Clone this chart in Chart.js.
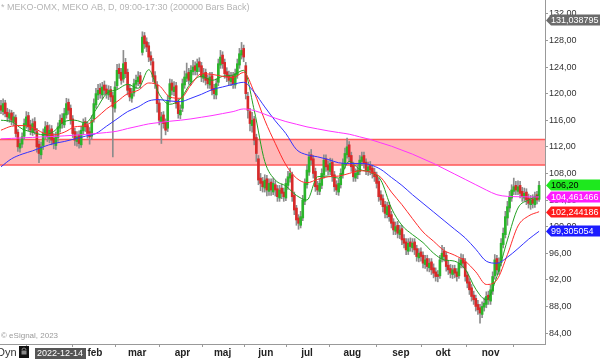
<!DOCTYPE html>
<html><head><meta charset="utf-8">
<script src="https://cdn.jsdelivr.net/npm/chart.js@4"></script>
<style>html,body{margin:0;padding:0;background:#fff;}canvas{display:block;}</style>
</head><body>
<canvas id="c" width="600" height="359"></canvas>
<script>
// ---- DATA (daily bars) ----
const opens = [118.2,117.3,118.6,117.2,116.3,117.1,115.8,116.4,114.2,111.8,
112.4,113.6,115.2,116.7,115.3,114.2,115.8,114.3,112.4,110.8,
112.2,113.8,115.2,113.2,114.7,113.3,112.2,113.4,114.8,116.3,
115.3,116.8,118.7,117.8,116.2,114.3,112.8,113.8,112.3,114.4,
115.8,115.2,114.3,113.6,116.2,118.3,119.8,120.8,119.8,121.3,
120.7,119.8,120.6,119.7,117.8,121.2,123.8,123.2,122.2,124.7,
123.2,120.8,119.3,120.1,121.4,121.8,122.7,126.2,128.7,127.8,
127.2,125.7,124.8,122.7,121.3,118.6,115.8,116.8,115.7,114.8,
119.2,121.6,120.3,121.2,118.7,116.8,117.8,121.3,122.3,123.2,
121.8,123.3,124.2,123.3,124.8,124.2,122.3,123.2,122.3,121.3,
122.7,120.8,119.8,121.7,124.3,125.8,124.7,123.3,122.8,121.8,
122.7,121.3,122.8,124.3,125.8,126.8,124.2,119.6,117.3,115.2,
116.2,113.4,110.2,107.3,106.8,105.8,107.2,105.3,106.7,105.2,
106.3,105.7,104.3,105.8,105.2,104.3,106.2,107.3,107.8,104.7,
102.8,101.3,100.2,101.3,103.8,106.3,108.2,110.8,110.2,108.3,
106.2,105.3,106.2,107.8,110.2,109.3,108.3,109.7,107.8,106.3,
105.2,106.3,107.8,109.3,110.8,112.3,110.7,109.2,107.3,107.8,
108.3,109.8,110.7,109.7,108.3,109.2,108.8,108.2,107.7,106.8,
104.8,104.2,103.3,101.8,103.2,101.8,100.7,99.3,100.2,98.8,
99.7,98.2,97.7,96.3,97.7,96.8,97.7,96.7,95.3,96.2,
95.7,94.3,95.2,93.8,94.7,93.8,93.2,92.8,92.6,95.2,
96.3,95.7,94.2,93.7,92.8,93.7,93.2,92.6,94.3,95.2,
94.7,92.7,91.7,90.8,89.7,89.2,88.3,87.8,86.8,87.9,
88.3,89.7,88.8,90.3,92.6,95.2,93.3,94.6,97.3,98.8,
101.3,102.8,104.3,105.3,106.2,105.3,106.2,105.3,104.3,105.2,
104.3,103.3,104.2,103.3,104.8,104.1];
const closes = [117.5,118.5,117,116.5,117,116,116.5,114,112,112.5,
113.5,115.5,116.5,115,114.5,115.5,114.5,112,111,112,
114,115,113.5,114.5,113,112.5,113.5,115,116,115.5,
117,118.5,117.5,116,114,113,113.5,112.5,114.5,115.5,
115,114,113.5,116,118.5,120,120.5,120,121,120.5,
120,120.5,119.5,118,121,123.5,123,122,124.5,123,
120.5,119.5,120,121.5,122,122.5,121.5,128.5,127.5,127,
125.5,125,122.5,121.5,118.5,116,116.5,115.5,114.5,119,
121.5,120.5,121,118.5,117,117.5,121.5,122.5,123,122,
123.5,124,123.5,124.5,124,122.5,123,122,121.5,122.5,
120.5,120,121.5,124.5,125.5,124.5,123,122.5,122,122.5,
121.5,123,124.5,126,126.5,125.5,120,117.5,115.5,116,
113,111,107,106.5,106,107,105.5,106.5,105.5,106.5,
105.5,104.5,105.5,105,104.5,106.5,107.5,108,104.5,102.5,
101,100.5,101.5,104,106.5,108.5,110.5,110,108,106,
105.5,106.5,108,110,109,108.5,109.5,107.5,106,105.5,
106.5,108,109.5,111,112,110.5,109,107.5,108,108.5,
110,110.5,109.5,108.5,109,108.5,108,107.5,106.5,104.5,
104,103,102,103,101.5,100.5,99.5,100,99,99.5,
98,97.5,96.5,97.5,97,97.5,96.5,95.5,96,95.5,
94.5,95,94,94.5,93.5,93,92.5,92.5,95,96,
95.5,94,93.5,93,93.5,93,92.5,94.5,95,94.5,
92.5,91.5,90.5,89.5,89,88,87.5,87,88,88.5,
89.5,89,90.5,92.5,95,93.5,94.5,97.5,99,101.5,
103,104.5,105.5,106,105.5,106,105,104.5,105,104,
103.5,104,103.5,104.5,104,106.2];
const highs = [119,119.2,119,117.8,117.6,117.5,117.2,116.8,114.6,113.2,
114.1,116.2,117.3,117.2,116,116.2,116.4,114.8,112.9,112.7,
114.7,115.8,115.7,115.3,115.2,114,114.2,115.6,116.8,117,
117.8,119.3,119.2,118.3,116.7,114.8,114.3,114.4,115.1,116.2,
116.4,115.7,114.9,116.7,119.2,120.8,121.4,121.5,121.7,121.9,
121.3,121.2,121.1,120.2,121.8,124.4,124.5,123.8,126.5,125.3,
123.7,121.4,120.8,122.2,122.8,123.3,123.2,129.3,129.2,128.4,
127.7,126.3,125.3,123.3,121.8,119.1,117.2,117.3,116.2,119.7,
122.2,122.1,121.8,121.7,119.2,118.3,122.2,123.4,124.6,123.8,
124.2,125,124.8,125.2,125.4,124.7,123.8,123.7,122.8,123.2,
123.2,121.4,122.2,125.2,126.5,126.3,125.2,123.9,123.4,123.2,
123.2,123.7,125.2,126.8,127.7,127.3,124.7,120.2,117.8,117.2,
116.6,113.9,110.7,108,107.4,107.8,107.7,107.2,107.2,107.3,
106.9,106.2,106.2,106.4,105.8,107.2,108.3,108.8,108.2,105.2,
103.2,101.8,102.3,104.7,107.2,109.3,111.2,111.6,110.7,108.8,
106.8,107.2,108.7,110.8,110.8,109.9,110.3,110.2,108.3,106.9,
107.2,108.7,110.2,111.8,113.3,112.8,111.2,109.7,108.7,109.3,
110.7,111.2,111.2,110.2,109.7,109.8,109.3,108.8,108.2,107.3,
105.4,104.8,103.8,103.7,103.7,102.3,101.2,100.7,100.8,100.2,
100.2,98.8,98.2,98.2,98.3,98.2,98.2,97.2,96.7,96.8,
96.2,95.7,95.7,95.2,95.2,94.4,93.8,93.4,95.7,97.2,
96.9,96.2,94.8,94.3,94.2,94.2,93.7,95.2,95.9,95.8,
95.2,93.2,92.2,91.3,90.3,89.7,88.9,88.3,88.7,89.3,
90.2,90.3,91.2,93.2,95.8,95.7,95.3,98.2,99.8,102.3,
103.8,105.3,106.3,107.3,106.8,106.9,106.8,105.9,105.8,105.7,
104.9,104.7,104.8,105.2,105.3,106.8];
const lows = [117,116.8,116.5,115.8,115.7,115.3,115.2,113.5,111.3,111.2,
111.9,113.1,114.8,114.4,113.8,113.7,113.9,111.2,109.6,110.2,
111.6,113.2,112.8,112.6,112.3,111.7,111.6,112.8,114.2,114.8,
114.9,116.3,116.9,115.4,113.4,112.2,112.1,111.8,111.9,113.8,
114.3,113.3,112.4,113.1,115.7,117.8,119.1,119.3,119.2,119.8,
119.3,119.1,118.8,110.5,117.2,120.7,122.3,121.4,121.7,122.4,
119.8,118.9,118.7,119.6,120.8,121.2,120.8,125.8,126.8,126.3,
124.8,124.3,121.8,120.8,117.2,115.3,112.5,114.8,113.8,114.3,
118.7,119.8,119.7,117.8,116.3,116.2,117.3,120.8,121.8,121.4,
121.3,122.8,122.8,122.8,123.3,121.8,121.7,121.3,120.8,120.8,
119.8,119.2,119.2,121.2,123.8,123.8,122.3,121.8,121.3,121.2,
120.8,120.8,122.3,123.8,125.2,124.8,119.2,116.3,114.4,114.2,
112.3,109.8,106.3,105.4,105.2,105.2,104.6,104.7,104.7,104.8,
104.6,103.8,103.8,104.2,103.8,103.9,105.6,106.7,103.8,101.8,
100.2,99.6,99.8,100.9,103.3,105.8,107.7,109.3,107.3,105.3,
104.8,104.8,105.7,107.3,108.3,107.8,107.8,106.8,105.3,104.8,
104.7,105.8,107.3,108.8,110.3,109.8,108.3,106.8,106.8,107.2,
107.8,109.2,108.8,107.8,107.7,107.8,107.3,106.8,105.8,103.8,
103.3,102.2,101.3,101.3,100.8,99.8,98.8,98.8,98.3,98.2,
97.3,96.8,95.8,95.8,96.3,96.2,95.8,94.8,94.7,94.8,
93.8,93.7,93.3,93.2,92.8,92.3,91.8,91.7,92.2,94.7,
94.8,93.3,92.8,92.3,92.2,92.3,91.8,92.2,93.8,93.8,
91.8,90.8,89.8,88.8,88.3,87.3,86.8,85.5,86.3,87.3,
87.8,88.3,88.3,89.8,92.1,92.8,92.8,94.1,96.8,98.3,
100.2,102.2,103.8,104.8,104.8,104.8,104.3,103.8,103.8,103.3,
102.8,102.6,102.8,102.9,103.4,103.8];

// moving averages, sampled every 5 bars (bar index)
const maIdx = [0,5,10,15,20,25,30,35,40,45,50,55,60,65,70,75,80,85,90,95,100,105,110,115,120,125,
130,135,140,145,150,155,160,165,170,175,180,185,190,195,200,205,210,215,220,225,230,235,240,245,250,255];
const maGreen = [116.0,115.8,114.7,114.2,113.8,114.3,115.8,116.0,115.6,117.6,
120.0,120.6,121.4,120.8,123.6,119.9,118.4,119.2,121.6,122.6,
122.0,122.6,122.8,123.5,117.5,109.8,107.0,106.1,104.7,104.0,
107.5,107.6,107.3,109.8,108.6,108.2,107.0,102.8,100.2,98.8,
97.6,96.0,95.0,94.8,93.6,90.6,89.0,92.5,98.0,102.8,104.0,104.8];
const maRed = [114.5,115.1,115.2,114.9,114.1,113.8,114.2,115.0,115.2,116.3,
117.7,118.8,120.0,120.5,121.6,121.2,119.5,119.3,121.3,123.0,
122.9,122.6,122.4,123.2,120.2,116.0,112.5,109.3,107.3,106.6,
107.1,107.5,107.6,108.0,108.4,108.2,107.4,105.2,103.3,101.2,
99.2,97.8,96.4,95.7,94.8,93.2,91.3,92.0,95.8,100.1,101.6,102.24];
const maBlue = [109.0,110.2,110.9,111.4,112.0,112.5,112.8,113.2,113.6,114.0,
115.1,116.2,117.3,118.0,118.9,119.1,118.9,118.8,119.3,119.9,
120.6,121.0,121.4,121.7,120.2,118.0,115.9,114.0,111.6,110.8,
110.5,110.1,109.6,109.5,109.5,109.3,108.6,107.4,106.2,104.8,
103.5,102.2,100.9,99.6,98.3,96.6,94.8,94.5,95.4,96.7,98.1,99.3];
const maMagenta = [113.2,113.27,113.35,113.42,113.5,113.56,113.65,113.75,113.85,114.0,
114.15,114.35,114.75,115.1,115.45,115.65,115.85,116.0,116.2,116.45,
116.7,117.0,117.3,117.7,117.45,116.9,116.3,115.8,115.4,115.0,
114.7,114.4,114.15,113.9,113.5,113.1,112.6,112.1,111.5,110.9,
110.2,109.5,108.7,107.9,107.1,106.3,105.5,104.8,104.55,104.5,104.47,104.46];

const zone = [109.25, 113.1];
const yTicks = [84,88,92,96,100,104,108,112,116,120,124,128,132];
const monthLabels = ['jan','feb','mar','apr','maj','jun','jul','aug','sep','okt','nov',''];
const monthStart = [23,44.5,64.5,86,105,125.5,145,166.5,189.5,209.5,232,254];
const tagValues = [131.038795, 106.20, 104.461466, 102.244186, 99.305054];
const tagTexts = ['131,038795','106,20','104,461466','102,244186','99,305054'];
const tagColors = ['#6b6b6b','#1ee81e','#ff1cff','#ff1c1c','#1c1cff'];
const tagInk = ['#fff','#000','#fff','#fff','#fff'];

// ---- CHART ----
const GREEN = '#2bb52b', RED = '#d82a2a';
const FONT = 'Arial, "Liberation Sans", sans-serif';
const bars = closes.map((c, i) => i);
const bodyData = bars.map(i => ({x: i, y: [opens[i], closes[i]]}));
const wickData = bars.map(i => ({x: i, y: [lows[i], highs[i]]}));
const bodyColors = bars.map(i => closes[i] >= opens[i] ? GREEN : RED);
const pts = vals => maIdx.map((x, k) => ({x: x, y: vals[k]}));

function lineDs(vals, color) {
  return {type: 'line', data: pts(vals), borderColor: color, borderWidth: 1,
    pointRadius: 0, cubicInterpolationMode: 'monotone', fill: false, order: 0};
}

const overlay = {
  id: 'overlay',
  beforeDatasetsDraw(chart) {
    const {ctx, chartArea: a, scales: {y}} = chart;
    const yt = y.getPixelForValue(zone[1]), yb = y.getPixelForValue(zone[0]);
    ctx.save();
    ctx.fillStyle = '#ffb8b8';
    ctx.fillRect(a.left, yt, a.right - a.left, yb - yt);
    ctx.strokeStyle = '#ff5a5a'; ctx.lineWidth = 1.5;
    ctx.beginPath();
    ctx.moveTo(a.left, yt); ctx.lineTo(a.right, yt);
    ctx.moveTo(a.left, yb); ctx.lineTo(a.right, yb);
    ctx.stroke();
    ctx.restore();
  },
  afterDraw(chart) {
    const {ctx, chartArea: a, scales: {y}} = chart;
    ctx.save();
    ctx.textBaseline = 'middle';
    ctx.fillStyle = '#b4b4b4';
    ctx.font = '9px ' + FONT;
    ctx.fillText('* MEKO-OMX, MEKO AB, D, 09:00-17:30 (200000 Bars Back)', 1, 8);
    ctx.fillStyle = '#9a9a9a';
    ctx.font = '8px ' + FONT;
    ctx.fillText('\u00a9 eSignal, 2023', 1, 336);
    // value tags
    ctx.font = '9px ' + FONT;
    tagValues.forEach((v, k) => {
      const py = Math.round(y.getPixelForValue(v)) + 0.5;
      const x0 = a.right + 1;
      ctx.fillStyle = tagColors[k];
      ctx.beginPath();
      ctx.moveTo(x0, py); ctx.lineTo(x0 + 5, py - 6); ctx.lineTo(600, py - 6);
      ctx.lineTo(600, py + 5); ctx.lineTo(x0 + 5, py + 5); ctx.closePath(); ctx.fill();
      ctx.fillStyle = tagInk[k];
      ctx.fillText(tagTexts[k], x0 + 5, py);
    });
    // bottom-left widgets
    ctx.fillStyle = '#333';
    ctx.font = '11px ' + FONT;
    ctx.fillText('Dyn', -3, 353);
    ctx.fillStyle = '#111';
    ctx.fillRect(19, 346, 10, 12);
    ctx.strokeStyle = '#888'; ctx.lineWidth = 1;
    ctx.beginPath(); ctx.arc(24, 350, 2, Math.PI, 0); ctx.stroke();
    ctx.fillStyle = '#888'; ctx.fillRect(21.5, 350.5, 5, 4);
    ctx.fillStyle = '#555';
    ctx.fillRect(35, 348, 51, 11);
    ctx.fillStyle = '#fff';
    ctx.font = '9px ' + FONT;
    ctx.fillText('2022-12-14', 37, 353.5);
    ctx.restore();
  }
};

new Chart(document.getElementById('c'), {
  type: 'bar',
  data: {
    datasets: [
      lineDs(maMagenta, '#ff33ff'),
      lineDs(maBlue, '#3333ff'),
      lineDs(maRed, '#ff2a2a'),
      lineDs(maGreen, '#22a022'),
      {type: 'bar', data: bodyData, backgroundColor: bodyColors, barThickness: 2,
        grouped: false, borderWidth: 0, order: 1},
      {type: 'bar', data: wickData, backgroundColor: '#8c8c8c', barThickness: 1,
        grouped: false, borderWidth: 0, order: 2}
    ]
  },
  options: {
    responsive: false, animation: false, devicePixelRatio: 1,
    layout: {padding: 0},
    plugins: {legend: {display: false}, tooltip: {enabled: false}},
    scales: {
      x: {
        type: 'linear', min: -0.47, max: 257.8, offset: false,
        afterBuildTicks: s => { s.ticks = monthStart.map(v => ({value: v})); },
        afterFit: s => { s.height = 15; s.paddingLeft = 0; s.paddingRight = 0; },
        grid: {drawOnChartArea: false, tickLength: 3, color: '#999'},
        border: {color: '#999'},
        ticks: {autoSkip: false, maxRotation: 0, padding: 0, color: '#222',
          font: {family: FONT, size: 10, weight: 'bold'},
          callback: (v, i) => monthLabels[i]}
      },
      y: {
        position: 'right', min: 82.35, max: 134.08,
        afterBuildTicks: s => { s.ticks = yTicks.map(v => ({value: v})); },
        afterFit: s => { s.width = 55; s.paddingTop = 0; s.paddingBottom = 0; },
        grid: {drawOnChartArea: false, tickLength: 3, color: '#999'},
        border: {color: '#999'},
        ticks: {padding: 1, color: '#333', font: {family: FONT, size: 9},
          callback: v => Number(v).toFixed(2).replace('.', ',')}
      }
    }
  },
  plugins: [overlay]
});
</script>
</body></html>
